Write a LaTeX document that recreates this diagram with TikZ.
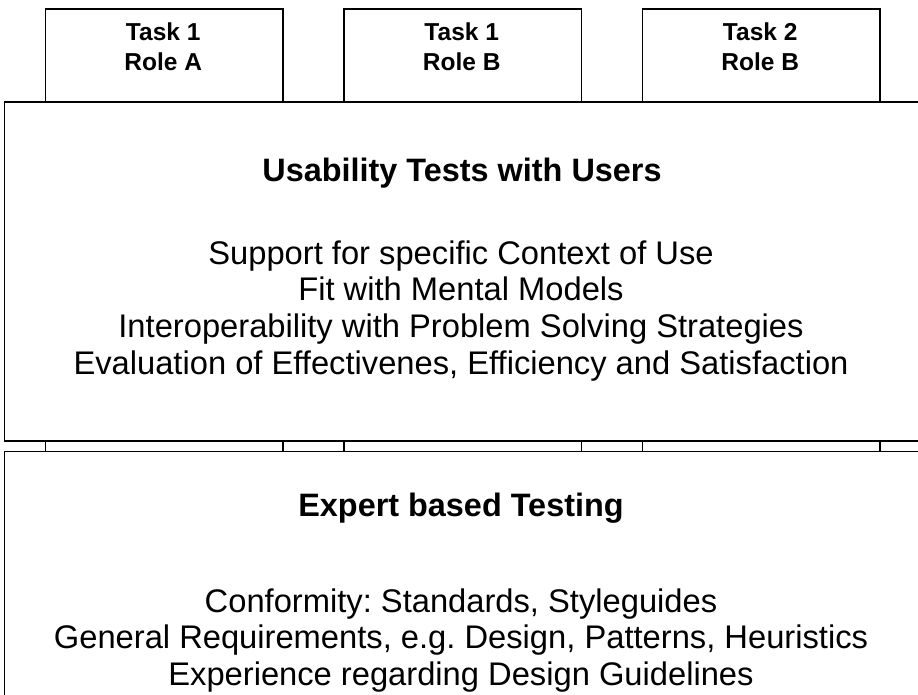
\documentclass[tikz,border=0pt]{standalone}
\usepackage{fontspec}
\setmainfont{Liberation Sans}
\frenchspacing
\begin{document}
\begin{tikzpicture}[x=1pt,y=-1pt,line width=1.6pt,
  colbox/.style={draw,fill=white,anchor=north west,inner sep=0pt,minimum width=237.5pt,minimum height=760pt},
  bigbox/.style={draw,fill=white,anchor=north west,inner sep=0pt,minimum width=940pt},
  tabtext/.style={font=\fontsize{24.5}{30}\selectfont\bfseries,anchor=base,inner sep=0pt},
  titletext/.style={font=\fontsize{32.4}{36}\selectfont\bfseries,anchor=base,inner sep=0pt},
  bodytext/.style={font=\fontsize{32.7}{36}\selectfont,anchor=base,inner sep=0pt}]
\useasboundingbox (0,0) rectangle (918,694);
\clip (0,0) rectangle (918,694);
% columns (tabs)
\node[colbox] (c1) at (44.5,8) {};
\node[colbox] (c2) at (343,8) {};
\node[colbox] (c3) at (641.5,8) {};
\node[tabtext] (c1a) at (163.2,40) {Task 1};
\node[tabtext] (c1b) at (163.2,70.7) {Role A};
\node[tabtext] (c2a) at (461.7,40) {Task 1};
\node[tabtext] (c2b) at (461.7,70.7) {Role B};
\node[tabtext] (c3a) at (760.2,40) {Task 2};
\node[tabtext] (c3b) at (760.2,70.7) {Role B};
% upper box
\node[bigbox,minimum height=339pt] (up) at (3.5,101) {};
\node[titletext] (upt) at (462,181.7) {Usability Tests with Users};
\node[bodytext] (u1) at (461,264) {Support for specific Context of Use};
\node[bodytext] (u2) at (461,300.8) {Fit with Mental Models};
\node[bodytext] (u3) at (461,337.6) {Interoperability with Problem Solving Strategies};
\node[bodytext] (u4) at (461,374.4) {Evaluation of Effectivenes, Efficiency and Satisfaction};
% lower box
\node[bigbox,minimum height=300pt] (lo) at (3.5,450.5) {};
\node[titletext] (lot) at (461,516.7) {Expert based Testing};
\node[bodytext] (l1) at (461,612) {Conformity: Standards, Styleguides};
\node[bodytext] (l2) at (461,648.8) {General Requirements, e.g. Design, Patterns, Heuristics};
\node[bodytext] (l3) at (461,685.6) {Experience regarding Design Guidelines};
\end{tikzpicture}
\end{document}
